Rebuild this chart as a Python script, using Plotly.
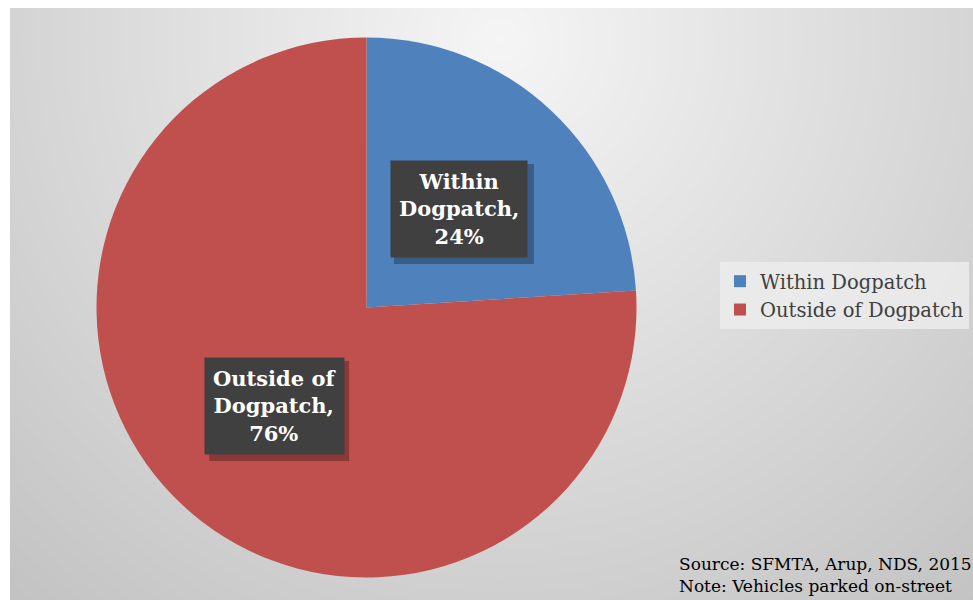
import math
import numpy as np
import plotly.graph_objects as go

labels = ["Within Dogpatch", "Outside of Dogpatch"]
values = [24, 76]
colors = ["#4F81BD", "#C0504D"]
source_lines = ["Source: SFMTA, Arup, NDS, 2015", "Note: Vehicles parked on-street"]

W, H = 973, 600
SERIF = "DejaVu Serif"

fig = go.Figure()

# background radial gradient panel (decoration)
gx = np.linspace(10, W, 60)
gy = np.linspace(8, H, 40)
X, Y = np.meshgrid(gx, gy)
Z = 245 - 0.068 * np.sqrt((X - 500) ** 2 + (Y - 40) ** 2)
fig.add_trace(go.Heatmap(
    x=gx, y=gy, z=Z, zmin=190, zmax=245, zsmooth="best",
    colorscale=[[0, "rgb(190,190,190)"], [1, "rgb(245,245,245)"]],
    showscale=False, hoverinfo="skip", xaxis="x", yaxis="y"))

# pie geometry (pixels)
cx, cy, R = 366.5, 307.5, 270
fig.add_trace(go.Pie(
    labels=labels, values=values, sort=False, direction="clockwise", rotation=0,
    marker=dict(colors=colors, line=dict(width=0)),
    textinfo="none", hoverinfo="label+percent",
    domain=dict(x=[(cx - R) / W, (cx + R) / W], y=[1 - (cy + R) / H, 1 - (cy - R) / H]),
))

# soft shadow behind pie
shapes = [dict(type="circle", xref="paper", yref="paper", layer="below",
               x0=(cx - R - 6) / W, x1=(cx + R + 6) / W,
               y0=1 - (cy + R + 8) / H, y1=1 - (cy - R - 4) / H,
               fillcolor="rgba(120,120,120,0.18)", line=dict(width=0))]

annotations = []
total = sum(values)
cum = 0
BW, BH = 70, 50  # half box size in px for shadow
for lab, v in zip(labels, values):
    mid = (cum + v / 2) / total * 2 * math.pi
    cum += v
    px = cx + 0.5 * R * math.sin(mid)
    py = cy - 0.5 * R * math.cos(mid)
    name = lab.replace(" Dogpatch", "<br>Dogpatch")
    txt = f"{name},<br>{round(v / total * 100)}%"
    shapes.append(dict(type="rect", xref="paper", yref="paper", layer="above",
                       x0=(px - BW + 5) / W, x1=(px + BW + 5) / W,
                       y0=1 - (py + BH + 5) / H, y1=1 - (py - BH + 5) / H,
                       fillcolor="rgba(0,0,0,0.28)", line=dict(width=0)))
    annotations.append(dict(xref="paper", yref="paper", x=px / W, y=1 - py / H, text=txt,
                            xanchor="center", yanchor="middle",
                            showarrow=False, align="center", borderpad=8,
                            bgcolor="#404040",
                            font=dict(family=SERIF, size=21, color="white", weight="bold")))

annotations.append(dict(xref="paper", yref="paper", x=677 / W, y=0.004, xanchor="left",
                        yanchor="bottom", align="left", showarrow=False,
                        text="<br>".join(source_lines),
                        font=dict(family=SERIF, size=17, color="black")))

fig.update_layout(
    width=W, height=H, margin=dict(l=0, r=0, t=0, b=0),
    paper_bgcolor="white", plot_bgcolor="rgba(0,0,0,0)",
    xaxis=dict(domain=[10 / W, 1], range=[10, W], visible=False, fixedrange=True),
    yaxis=dict(domain=[0, 1 - 8 / H], range=[H, 8], visible=False, fixedrange=True),
    showlegend=True,
    legend=dict(x=720 / W, y=1 - 262 / H, xanchor="left", yanchor="top",
                bgcolor="rgba(236,236,236,0.85)", borderwidth=0,
                font=dict(family=SERIF, size=19.5, color="#404040"),
                traceorder="normal"),
    shapes=shapes, annotations=annotations,
)

fig.write_html("out.html")
